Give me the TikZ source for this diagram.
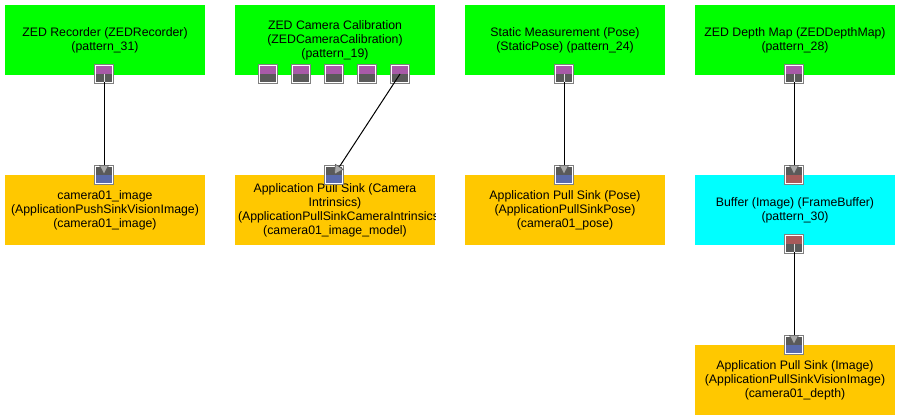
\documentclass[tikz,border=0pt]{standalone}
\usepackage{fontspec}
\setmainfont{Liberation Sans}
\usetikzlibrary{arrows.meta}
\definecolor{boxgreen}{RGB}{0,255,0}
\definecolor{boxorange}{RGB}{255,200,0}
\definecolor{boxcyan}{RGB}{0,255,255}
\definecolor{portpurple}{RGB}{168,90,168}
\definecolor{portblue}{RGB}{90,106,170}
\definecolor{portred}{RGB}{168,90,90}
\definecolor{portdark}{RGB}{90,90,90}
\definecolor{portgray}{RGB}{128,128,128}
\definecolor{tipgray}{RGB}{170,170,170}
\tikzset{
  box/.style={minimum width=200pt, minimum height=70pt, inner sep=0pt, align=center,
    font=\fontsize{12.3}{14}\selectfont, text=black},
  greenbox/.style={box, fill=boxgreen},
  orangebox/.style={box, fill=boxorange},
  cyanbox/.style={box, fill=boxcyan},
  boxtext/.style={inner sep=0pt, align=center, font=\fontsize{12.3}{14}\selectfont, text=black},
  portbase/.style 2 args={minimum size=20pt, inner sep=0pt, path picture={
    \fill[white] (path picture bounding box.south west) rectangle (path picture bounding box.north east);
    \fill[#1] ([xshift=2pt,yshift=-2pt]path picture bounding box.north west) rectangle ([xshift=-2pt]path picture bounding box.east);
    \fill[#2] ([xshift=2pt]path picture bounding box.west) rectangle ([xshift=-2pt,yshift=2pt]path picture bounding box.south east);
    \draw[portgray, line width=1pt] ([shift={(0.5pt,0.5pt)}]path picture bounding box.south west) rectangle ([shift={(-0.5pt,-0.5pt)}]path picture bounding box.north east);
  }},
  outport/.style={portbase={#1}{portdark}},
  inport/.style={portbase={portdark}{#1}},
  conn/.style={draw=black, line width=1pt,
    -{Triangle[length=10pt,width=10pt,color=portdark,fill=tipgray,line width=0.6pt]}},
  inner line/.style={draw=white!75!gray, line width=1pt},
}
\begin{document}
\begin{tikzpicture}[x=1pt,y=-1pt]
\useasboundingbox (0,0) rectangle (900,420);
\fill[white] (0,0) rectangle (900,420);
% boxes
\node[greenbox] (rec) at (105,40) {ZED Recorder (ZEDRecorder)\\(pattern\_31)};
\node[greenbox] (cal) at (335,40) {ZED Camera Calibration\\(ZEDCameraCalibration)\\(pattern\_19)};
\node[greenbox] (stat) at (565,40) {Static Measurement (Pose)\\(StaticPose) (pattern\_24)};
\node[greenbox] (dep) at (795,40) {ZED Depth Map (ZEDDepthMap)\\(pattern\_28)};
\node[orangebox] (img) at (105,210) {camera01\_image\\(ApplicationPushSinkVisionImage)\\(camera01\_image)};
\node[orangebox] (intr) at (335,210) {};
\begin{scope}
  \clip (intr.south west) rectangle (intr.north east);
  \node[boxtext] (intrtext) at (intr.center) {Application Pull Sink (Camera\\Intrinsics)\\\makebox[194pt][l]{(ApplicationPullSinkCameraIntrinsics)}\\(camera01\_image\_model)};
\end{scope}
\node[orangebox] (pose) at (565,210) {Application Pull Sink (Pose)\\(ApplicationPullSinkPose)\\(camera01\_pose)};
\node[cyanbox] (buf) at (795,210) {Buffer (Image) (FrameBuffer)\\(pattern\_30)};
\node[orangebox] (depth) at (795,380) {Application Pull Sink (Image)\\(ApplicationPullSinkVisionImage)\\(camera01\_depth)};
% ports
\node[outport=portpurple] (reco) at (104,74) {};
\node[outport=portpurple] (calo1) at (268,74) {};
\node[outport=portpurple] (calo2) at (301,74) {};
\node[outport=portpurple] (calo3) at (334,74) {};
\node[outport=portpurple] (calo4) at (367,74) {};
\node[outport=portpurple] (calo5) at (400,74) {};
\node[outport=portpurple] (stato) at (564,74) {};
\node[outport=portpurple] (depo) at (794,74) {};
\node[inport=portblue] (imgi) at (104,175) {};
\node[inport=portblue] (intri) at (334,175) {};
\node[inport=portblue] (posei) at (564,175) {};
\node[inport=portred] (bufi) at (794,175) {};
\node[outport=portred] (bufo) at (794,244) {};
\node[inport=portblue] (depthi) at (794,345) {};
% connectors
\draw[conn] (reco.center) -- (imgi.center);
\draw[conn] (calo5.center) -- (intri.center);
\draw[conn] (stato.center) -- (posei.center);
\draw[conn] (depo.center) -- (bufi.center);
\draw[conn] (bufo.center) -- (depthi.center);
\draw[inner line] (reco.center) -- ([yshift=2pt]reco.south);
\draw[inner line] (stato.center) -- ([yshift=2pt]stato.south);
\draw[inner line] (depo.center) -- ([yshift=2pt]depo.south);
\draw[inner line] (bufo.center) -- ([yshift=2pt]bufo.south);
\end{tikzpicture}
\end{document}
